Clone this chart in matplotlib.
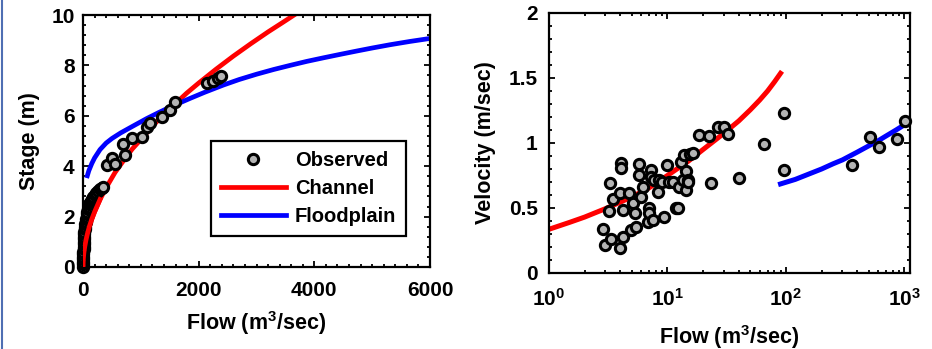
import numpy as np
import matplotlib
matplotlib.use("Agg")
import matplotlib.pyplot as plt
from matplotlib.ticker import MultipleLocator, FixedLocator, FixedFormatter, LogLocator, NullFormatter
from matplotlib.lines import Line2D

plt.rcParams['font.family'] = ['Liberation Sans', 'DejaVu Sans']
plt.rcParams['font.weight'] = 'bold'
plt.rcParams['mathtext.fontset'] = 'custom'
plt.rcParams['mathtext.bf'] = 'Liberation Sans:bold'
plt.rcParams['mathtext.rm'] = 'Liberation Sans:bold'

# ---- left panel: stage vs flow ----
# low-flow gaugings (dense, drawn in order) then the higher flows
obs_flow = [0, 1, 2, 3, 4, 5, 6, 8, 9, 10, 12, 14, 17, 20, 24, 28, 33, 39, 45, 52,
            60, 68, 77, 87, 98, 110, 125, 140, 160, 180, 205, 230, 260, 290, 320, 350,
            409, 496, 553, 726, 697, 842, 1014, 1101, 1160, 1360, 1504, 1591, 2139, 2254, 2340, 2380]
obs_stage = [0.0, 0.1, 0.2, 0.3, 0.4, 0.5, 0.6, 0.7, 0.8, 0.9, 1.0, 1.1, 1.2, 1.3, 1.4, 1.5, 1.6, 1.7, 1.8, 1.9,
             2.0, 2.1, 2.2, 2.3, 2.4, 2.5, 2.55, 2.62, 2.7, 2.78, 2.86, 2.94, 3.02, 3.08, 3.14, 3.18,
             4.05, 4.31, 4.1, 4.44, 4.88, 5.13, 5.17, 5.57, 5.7, 5.94, 6.23, 6.56, 7.31, 7.38, 7.49, 7.58]

chan_flow = [0, 5, 15, 30, 50, 74, 110, 150, 200, 294, 400, 553, 700, 850, 1043, 1250, 1450,
             1792, 2000, 2300, 2600, 2900, 3200, 3450, 3650]
chan_stage = [0, 0.32, 0.57, 0.81, 1.06, 1.3, 1.61, 1.89, 2.19, 2.68, 3.15, 3.75, 4.22, 4.68, 5.17, 5.71, 6.17,
              6.9, 7.3, 7.85, 8.37, 8.86, 9.33, 9.7, 10.0]

fp_flow = [74, 100, 150, 200, 294, 400, 500, 650, 870, 1100, 1300, 1447, 1650, 1850, 2100, 2426,
           2700, 3000, 3300, 3579, 3870, 4155, 4450, 4732, 5000, 5308, 5650, 6000]
fp_stage = [3.62, 3.82, 4.1, 4.33, 4.66, 4.92, 5.1, 5.32, 5.6, 5.89, 6.12, 6.28, 6.49, 6.69, 6.93, 7.22,
            7.44, 7.65, 7.84, 8.0, 8.16, 8.3, 8.44, 8.57, 8.69, 8.82, 8.95, 9.07]

# ---- right panel: velocity vs flow ----
vel_flow = [2.87, 2.99, 3.34, 3.27, 3.19, 3.45, 4.0, 4.24, 4.05, 4.05, 3.97, 4.19, 4.76, 5.08, 4.92,
            5.42, 5.32, 5.78, 5.78, 5.97, 6.18, 6.8, 6.94, 7.0, 7.26, 7.26, 7.5, 7.74, 8.26, 8.52,
            9.0, 9.4, 9.9, 10.4, 11.1, 11.8, 12.3, 12.6, 13.0, 13.4, 13.9, 14.3, 14.3, 14.8, 15.0,
            15.5, 16.3, 18.5, 22.3, 23.3, 26.5, 30.2, 32.6, 39.9, 65.6, 96.8, 96.8, 361, 515, 613,
            865, 1016]
vel_obs = [0.34, 0.215, 0.26, 0.695, 0.48, 0.567, 0.19, 0.275, 0.844, 0.805, 0.618, 0.485, 0.613, 0.536, 0.331,
           0.356, 0.459, 0.838, 0.754, 0.587, 0.664, 0.395, 0.498, 0.46, 0.792, 0.74, 0.408, 0.715, 0.625, 0.715,
           0.70, 0.433, 0.83, 0.70, 0.70, 0.498, 0.5, 0.664, 0.856, 0.715, 0.908, 0.638, 0.785, 0.715, 0.70,
           0.915, 0.92, 1.06, 1.05, 0.695, 1.12, 1.125, 1.067, 0.728, 0.992, 1.228, 0.792, 0.831, 1.044, 0.967,
           1.028, 1.172]

vchan_flow = [1, 1.5, 2, 3, 4, 5, 7, 10, 15, 20, 30, 40, 50, 60, 70, 80, 90]
vchan_vel = [0.336, 0.39, 0.43, 0.495, 0.545, 0.585, 0.655, 0.75, 0.86, 0.95, 1.075, 1.17, 1.255, 1.33, 1.4, 1.47, 1.536]

vfp_flow = [90, 120, 150, 200, 250, 300, 400, 500, 600, 700, 850, 1000, 1097]
vfp_vel = [0.685, 0.72, 0.755, 0.8, 0.84, 0.87, 0.93, 0.978, 1.017, 1.054, 1.1, 1.14, 1.164]

red = '#ff0000'
blue = '#0000ff'
grey = '#b4b4b4'
fs_tick = 15
fs_label = 15.5

fig = plt.figure(figsize=(9.32, 3.49), dpi=100)
ax1 = fig.add_axes([0.0891, 0.235, 0.3723, 0.722])
ax2 = fig.add_axes([0.589, 0.2178, 0.3873, 0.745])

for ax in (ax1, ax2):
    for s in ax.spines.values():
        s.set_linewidth(1.6)
    ax.tick_params(which='both', direction='in', top=True, right=True, width=1.3,
                   labelsize=fs_tick)
    ax.tick_params(which='major', length=4)
    ax.tick_params(which='minor', length=2.2)

ax1.plot(chan_flow, chan_stage, color=red, lw=3.4, label='Channel', zorder=2)
ax1.plot(fp_flow, fp_stage, color=blue, lw=3.4, label='Floodplain', zorder=2)
ax1.plot(obs_flow, obs_stage, 'o', ms=7.4, mfc=grey, mec='black', mew=2.2,
         label='Observed', zorder=3, clip_on=False)
# channel curve sits on top of the dense low-flow cluster
ax1.plot(chan_flow[:10], chan_stage[:10], color=red, lw=3.4, zorder=4)
ax1.set_xlim(0, 6000)
ax1.set_ylim(0, 10)
ax1.xaxis.set_major_locator(MultipleLocator(2000))
ax1.xaxis.set_minor_locator(MultipleLocator(200))
ax1.yaxis.set_major_locator(MultipleLocator(2))
ax1.yaxis.set_minor_locator(MultipleLocator(0.4))
ax1.tick_params(axis='x', which='major', pad=10)
ax1.tick_params(axis='y', which='major', pad=6)
ax1.set_xlabel(r'Flow (m$^{\mathbf{3}}$/sec)', fontsize=fs_label, fontweight='bold', labelpad=7)
ax1.set_ylabel('Stage (m)', fontsize=fs_label, fontweight='bold', labelpad=8)

h, l = ax1.get_legend_handles_labels()
order = [2, 0, 1]
leg = ax1.legend([h[i] for i in order], [l[i] for i in order], loc='lower left',
                 bbox_to_anchor=(0.369, 0.123), fontsize=14.5, frameon=True, fancybox=False,
                 edgecolor='black', framealpha=1, handlelength=3.2, handletextpad=0.45,
                 borderpad=0.5, labelspacing=0.45, borderaxespad=0)
leg.get_frame().set_linewidth(1.6)
for t in leg.get_texts():
    t.set_fontweight('bold')

ax2.plot(vchan_flow, vchan_vel, color=red, lw=3.6, zorder=2)
ax2.plot(vfp_flow, vfp_vel, color=blue, lw=3.6, zorder=2)
ax2.plot(vel_flow, vel_obs, 'o', ms=7.4, mfc=grey, mec='black', mew=2.2, zorder=3, clip_on=False)
ax2.set_xscale('log')
ax2.set_xlim(1, 1112)
ax2.set_ylim(0, 2)
ax2.xaxis.set_major_locator(FixedLocator([1, 10, 100, 1000]))
ax2.xaxis.set_major_formatter(FixedFormatter([r'$\mathbf{10^{0}}$', r'$\mathbf{10^{1}}$',
                                              r'$\mathbf{10^{2}}$', r'$\mathbf{10^{3}}$']))
ax2.xaxis.set_minor_locator(LogLocator(base=10, subs=np.arange(2, 10)))
ax2.xaxis.set_minor_formatter(NullFormatter())
ax2.yaxis.set_major_locator(FixedLocator([0, 0.5, 1, 1.5, 2]))
ax2.yaxis.set_major_formatter(FixedFormatter(['0', '0.5', '1', '1.5', '2']))
ax2.yaxis.set_minor_locator(MultipleLocator(0.1))
ax2.tick_params(axis='x', which='major', pad=11)
ax2.tick_params(axis='y', which='major', pad=8)
ax2.set_xlabel(r'Flow (m$^{\mathbf{3}}$/sec)', fontsize=fs_label, fontweight='bold', labelpad=9)
ax2.set_ylabel('Velocity (m/sec)', fontsize=fs_label, fontweight='bold', labelpad=9)

for ax in (ax1, ax2):
    for t in ax.get_xticklabels() + ax.get_yticklabels():
        t.set_fontweight('bold')

fig.add_artist(Line2D([0.0018, 0.0018], [0, 1], transform=fig.transFigure,
                      color='#4f6fb3', lw=1.5))

fig.savefig('out.png', dpi=100)
